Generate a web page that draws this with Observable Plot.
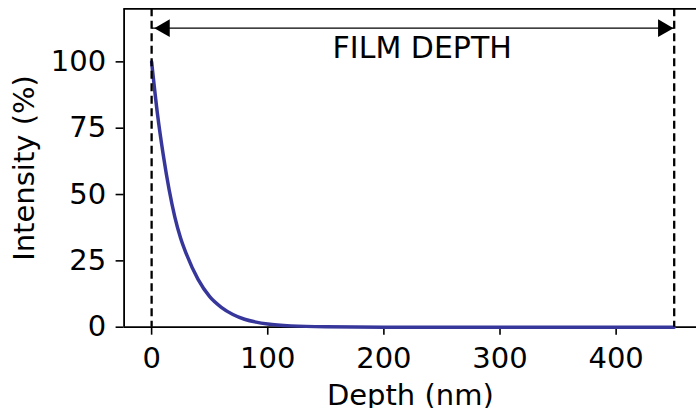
<!DOCTYPE html>
<html>
<head>
<meta charset="utf-8">
<script src="https://cdn.jsdelivr.net/npm/d3@7"></script>
<script src="https://cdn.jsdelivr.net/npm/@observablehq/plot@0.6"></script>
<style>
  body { margin: 0; background: #fff; }
  #chart svg { display: block; }
  #chart svg text { font-family: "DejaVu Sans"; }
  #chart [aria-label="x-axis tick label"],
  #chart [aria-label="y-axis tick label"] { font-size: 29px; }
</style>
</head>
<body>
<div id="chart"></div>
<script>
// Light intensity decaying with depth into the film
const depth     = [0, 5, 10, 15, 20, 25, 30, 40, 50, 60, 70, 80, 90, 100, 120, 150, 200, 300, 450];
const intensity = [100, 80.5, 65, 52, 41.5, 33.5, 27.5, 18, 11.5, 7.5, 4.8, 3.0, 1.9, 1.2, 0.5, 0.15, 0.02, 0, 0];

const xTicks = [0, 100, 200, 300, 400];
const yTicks = [0, 25, 50, 75, 100];

// film boundaries (nm) and the span annotation
const filmEdges = [0, 450];
const spanLevel = 112.7;
const spanLabel = [{depth: 233, level: 105.2, text: "FILM DEPTH"}];

const xDomain = [-23.7, 469.2];
const yDomain = [0, 120];

const profile = depth.map((d, i) => ({depth: d, intensity: intensity[i]}));

const chart = Plot.plot({
  width: 696,
  height: 408,
  marginLeft: 123.6,
  marginRight: 0,
  marginTop: 8.3,
  marginBottom: 81.3,
  style: {fontFamily: "DejaVu Sans", fontSize: "29px", color: "black", background: "white", overflow: "visible"},
  x: {domain: xDomain},
  y: {domain: yDomain},
  marks: [
    Plot.axisX({ticks: xTicks, tickSize: 8, tickPadding: 12, strokeWidth: 1.6, label: null}),
    Plot.axisY({ticks: yTicks, tickSize: 8, tickPadding: 10, strokeWidth: 1.6, label: null}),
    // axes frame (left, bottom, top)
    Plot.ruleY(yDomain, {strokeWidth: 1.8}),
    Plot.ruleX([xDomain[0]], {strokeWidth: 1.8}),
    Plot.line(profile, {x: "depth", y: "intensity", stroke: "#37379b", strokeWidth: 3.5, curve: "monotone-x"}),
    Plot.ruleX(filmEdges, {strokeDasharray: "8,4.5", strokeWidth: 2.3}),
    // double-headed arrow spanning the film
    Plot.link([filmEdges], {x1: d => d[0], x2: d => d[1], y1: spanLevel, y2: spanLevel, strokeWidth: 1.4}),
    Plot.dot([filmEdges[0]], {x: d => d, y: spanLevel, symbol: "triangle", r: 6.6, fill: "black", rotate: -90, dx: 13}),
    Plot.dot([filmEdges[1]], {x: d => d, y: spanLevel, symbol: "triangle", r: 6.6, fill: "black", rotate: 90, dx: -11}),
    Plot.text(spanLabel, {x: "depth", y: "level", text: "text", fontSize: 30, fill: "black", lineAnchor: "middle"}),
    // axis titles
    Plot.text(["Depth (nm)"], {frameAnchor: "bottom", textAnchor: "middle", lineAnchor: "middle", dy: 68.7, fontSize: 29, fill: "black"}),
    Plot.text(["Intensity (%)"], {frameAnchor: "left", textAnchor: "middle", lineAnchor: "middle", rotate: -90, dx: -99, fontSize: 29, fill: "black"})
  ]
});

document.getElementById("chart").append(chart);
</script>
</body>
</html>
